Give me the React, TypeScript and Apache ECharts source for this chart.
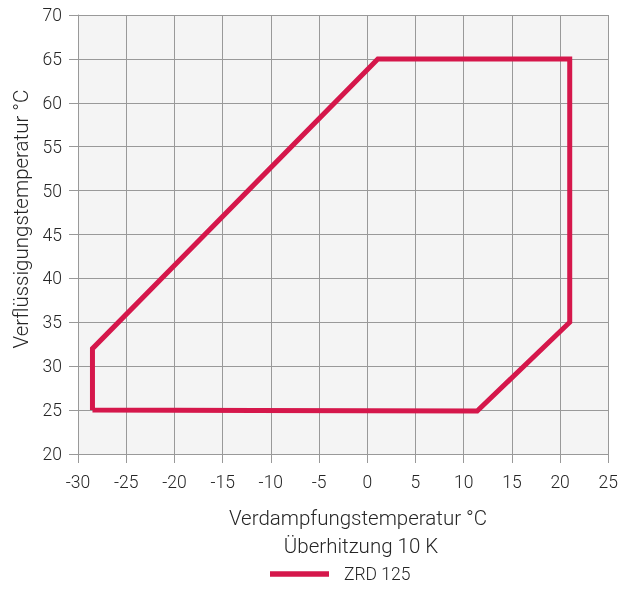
import React, { useEffect, useRef } from "react";
import * as echarts from "echarts";

// Operating envelope of the compressor (evaporating vs. condensing temperature)
const seriesName = "ZRD 125";
const evapTemps = [-28.5, -28.5, 1.1, 21, 21, 11.4, -28.5];
const condTemps = [25, 32, 65, 65, 35, 24.9, 25];

const xTitle = "Verdampfungstemperatur °C";
const xSubTitle = "Überhitzung 10 K";
const yTitle = "Verflüssigungstemperatur °C";

const FONT = "Roboto";
const TEXT = "#262626";
const GRIDLINE = "#999";
const RED = "#d5174b";

export default function App() {
  const ref = useRef<HTMLDivElement>(null);

  useEffect(() => {
    if (!ref.current) return;
    const chart = echarts.init(ref.current, undefined, { renderer: "svg" });
    const data = evapTemps.map((x, i) => [x, condTemps[i]]);
    const titleStyle = {
      fontSize: 20.5,
      fontFamily: FONT,
      fontWeight: 300,
      fill: TEXT,
      align: "center",
      verticalAlign: "middle",
    };
    chart.setOption({
      animation: false,
      textStyle: { fontFamily: FONT, fontWeight: 300, color: TEXT },
      grid: {
        left: 78,
        right: 10,
        top: 15,
        bottom: 135,
        show: true,
        backgroundColor: "#f4f4f4",
        borderWidth: 0,
      },
      xAxis: {
        type: "value",
        min: -30,
        max: 25,
        interval: 5,
        axisLine: { show: true, onZero: false, lineStyle: { color: GRIDLINE, width: 1 } },
        axisTick: { show: true, length: 9, lineStyle: { color: GRIDLINE } },
        axisLabel: { margin: 19, fontSize: 17.5, color: TEXT, fontFamily: FONT, fontWeight: 300 },
        splitLine: { show: true, lineStyle: { color: GRIDLINE, width: 1 } },
      },
      yAxis: {
        type: "value",
        min: 20,
        max: 70,
        interval: 5,
        axisLine: { show: true, onZero: false, lineStyle: { color: GRIDLINE, width: 1 } },
        axisTick: { show: true, length: 9, lineStyle: { color: GRIDLINE } },
        axisLabel: { margin: 16, fontSize: 17.5, color: TEXT, fontFamily: FONT, fontWeight: 300 },
        splitLine: { show: true, lineStyle: { color: GRIDLINE, width: 1 } },
      },
      legend: {
        top: 560,
        left: 265,
        icon: "rect",
        itemWidth: 59,
        itemHeight: 5.5,
        itemGap: 10,
        textStyle: { fontSize: 17.5, color: TEXT, fontFamily: FONT, fontWeight: 300, padding: [0, 0, 0, 10] },
        data: [seriesName],
      },
      graphic: [
        { type: "text", x: 358, y: 518, style: { ...titleStyle, text: xTitle } },
        { type: "text", x: 361, y: 546, style: { ...titleStyle, text: xSubTitle } },
        { type: "text", x: 21, y: 219, rotation: Math.PI / 2, style: { ...titleStyle, text: yTitle } },
      ],
      series: [
        {
          name: seriesName,
          type: "line",
          data,
          showSymbol: false,
          symbol: "none",
          lineStyle: { color: RED, width: 5, join: "miter" },
          itemStyle: { color: RED },
        },
      ],
    });
    return () => chart.dispose();
  }, []);

  return (
    <div
      ref={ref}
      style={{ position: "fixed", left: 0, top: 0, width: 621, height: 589 }}
    />
  );
}
